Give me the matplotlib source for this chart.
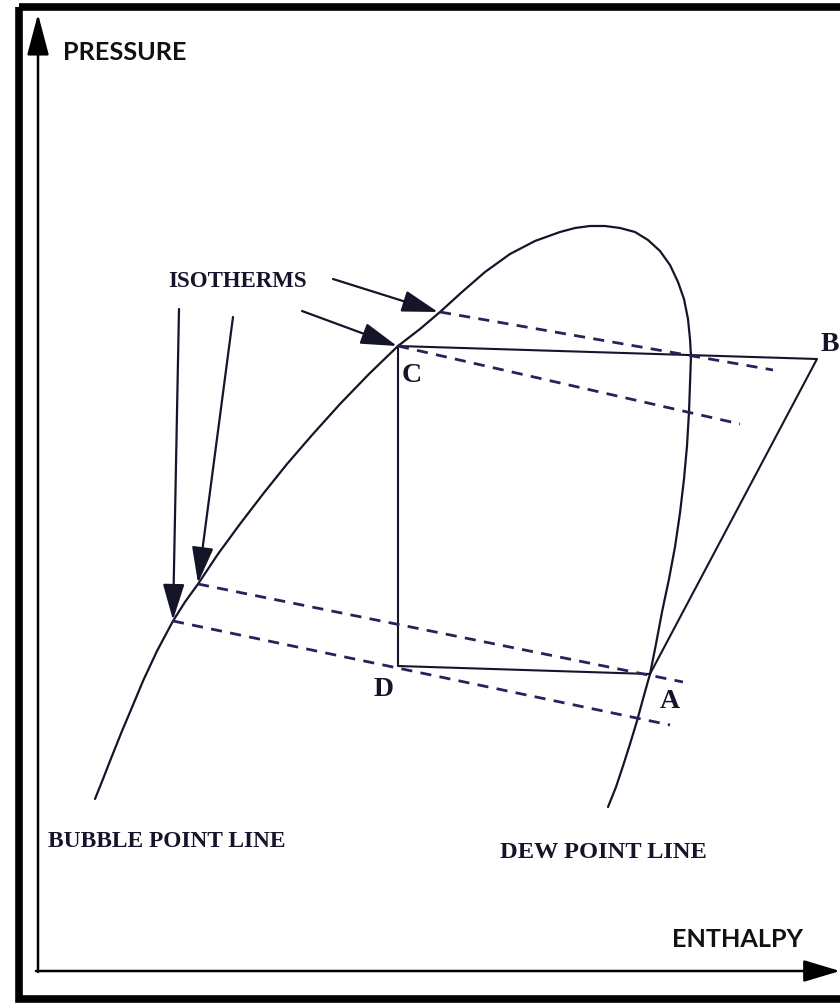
import matplotlib.pyplot as plt
from matplotlib.patches import Rectangle

# the sketch is laid out in picture units: x to the right, y downwards
# saturation dome: bubble point line -> top -> dew point line
sat_x = [95, 103, 110, 116, 122, 133, 143, 150, 157, 165, 173, 185, 198, 218,
         240, 263, 287, 313, 340, 369, 398, 420, 440, 462, 485, 510, 535, 560,
         575, 590, 605, 620, 635, 648, 660, 670, 678, 684, 688, 690, 691, 690,
         689, 687, 684, 680, 675, 669, 662, 656, 650, 643, 637, 630, 623, 616,
         608]
sat_y = [800, 780, 762, 747, 732, 706, 682, 667, 652, 637, 622, 603, 585, 555,
         525, 495, 465, 435, 405, 375, 347, 330, 313, 293, 273, 255, 242, 233,
         229, 227, 227, 229, 233, 241, 252, 266, 283, 300, 320, 340, 357, 385,
         413, 447, 480, 514, 548, 580, 613, 645, 675, 700, 722, 745, 767, 788,
         808]

# refrigeration cycle C -> B -> A -> D -> C
cycle_names = ["C", "B", "A", "D"]
cycle_x = [398, 817, 650, 398]
cycle_y = [347, 360, 675, 667]

# isotherms (dashed), start on the bubble line
iso_x0 = [440, 398, 198, 173]
iso_y0 = [313, 347, 585, 622]
iso_x1 = [773, 740, 683, 670]
iso_y1 = [371, 425, 683, 726]

# pointers from the ISOTHERMS label
ptr_x0 = [333, 302, 179, 233]
ptr_y0 = [280, 312, 310, 318]
ptr_x1 = [438, 397, 173, 198]
ptr_y1 = [313, 347, 621, 584]

# point labels
pt_lab = ["C", "D", "A", "B"]
pt_lab_x = [412, 384, 670, 839]
pt_lab_y = [376, 690, 702, 345]

solid = "#15152a"
dashed = "#24245a"

fig = plt.figure(figsize=(8.4, 10.04), dpi=100)
ax = fig.add_axes([0, 0, 1, 1])
ax.set_xlim(0, 840)
ax.set_ylim(1004, 0)
ax.axis("off")

# frame around the picture (right side falls outside)
ax.add_patch(Rectangle((18.5, 7.5), 900, 992, fill=False, lw=5.5, ec="black"))

# axes with arrow heads
ax.annotate("", xy=(38, 15), xytext=(38, 973),
            arrowprops=dict(arrowstyle="-|>,head_length=1.7,head_width=0.45",
                            mutation_scale=15, lw=1.8, color="black",
                            shrinkA=0, shrinkB=0))
ax.annotate("", xy=(840, 972), xytext=(36, 972),
            arrowprops=dict(arrowstyle="-|>,head_length=1.5,head_width=0.45",
                            mutation_scale=15, lw=1.8, color="black",
                            shrinkA=0, shrinkB=0))

sans = ["Lato", "DejaVu Sans"]
ax.text(63, 52, "PRESSURE", family=sans, weight="bold", fontsize=18.2,
        ha="left", va="center", color="#111111")
ax.text(672, 940, "ENTHALPY", family=sans, weight="bold", fontsize=18.2,
        ha="left", va="center", color="#111111")

# dome
ax.plot(sat_x, sat_y, color=solid, lw=1.6, solid_capstyle="round",
        solid_joinstyle="round")

# cycle
ax.plot(cycle_x + cycle_x[:1], cycle_y + cycle_y[:1], color=solid, lw=1.5)

# isotherms
for x0, y0, x1, y1 in zip(iso_x0, iso_y0, iso_x1, iso_y1):
    ax.plot([x0, x1], [y0, y1], color=dashed, lw=2.0, linestyle=(0, (4, 3)))

# pointers
for x0, y0, x1, y1 in zip(ptr_x0, ptr_y0, ptr_x1, ptr_y1):
    ax.annotate("", xy=(x1, y1), xytext=(x0, y0),
                arrowprops=dict(arrowstyle="-|>,head_length=1.6,head_width=0.48",
                                mutation_scale=14, lw=1.6, color=solid,
                                shrinkA=0, shrinkB=0))

serif = ["Liberation Serif", "DejaVu Serif"]
for lab, x, y in zip(pt_lab, pt_lab_x, pt_lab_y):
    ax.text(x, y, lab, family=serif, weight="bold", fontsize=20,
            ha="right" if lab == "B" else "center", va="center", color=solid)

ax.text(237, 282, "ISOTHERMS", family=serif, weight="bold", fontsize=16.5,
        ha="center", va="center", color=solid)
ax.text(48, 842, "BUBBLE POINT LINE", family=serif, weight="bold", fontsize=16.8,
        ha="left", va="center", color=solid)
ax.text(500, 853, "DEW POINT LINE", family=serif, weight="bold", fontsize=17.6,
        ha="left", va="center", color=solid)

fig.savefig("out.png", dpi=100)
